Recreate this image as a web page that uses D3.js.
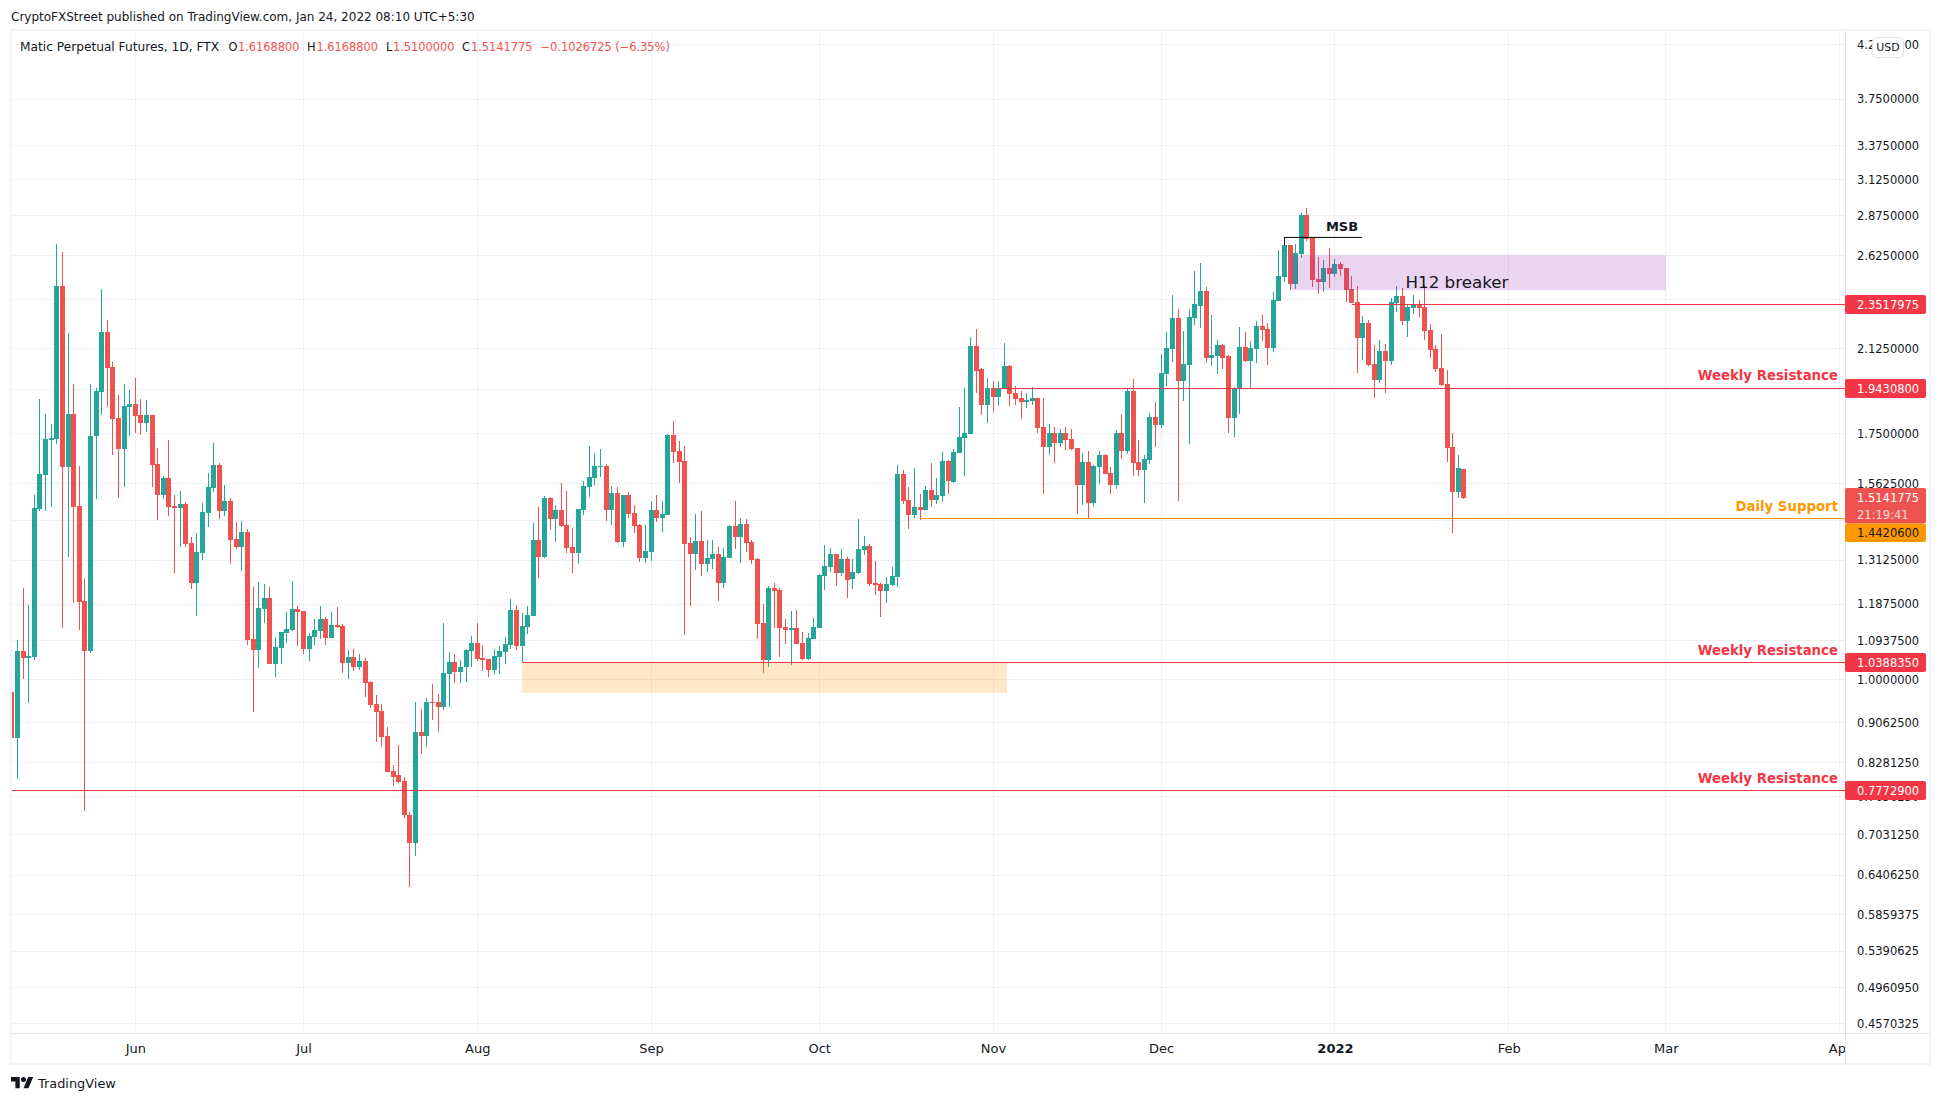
<!DOCTYPE html>
<html>
<head>
<meta charset="utf-8">
<script src="https://cdn.jsdelivr.net/npm/d3@7/dist/d3.min.js"></script>
<style>
  html, body { margin: 0; padding: 0; background: #ffffff; overflow: hidden; }
  text { font-family: "DejaVu Sans", sans-serif; }
</style>
</head>
<body>
<svg id="chart" width="1941" height="1103"></svg>
<script>
// Daily candles, May 10 2021 to Jan 24 2022
var firstDay = new Date(Date.UTC(2021, 4, 10));
var lastDay = new Date(Date.UTC(2022, 0, 24));

var opens = [
  0.973,0.876,1.068,1.051,1.053,1.475,1.594,1.726,1.730,2.450,
  1.623,1.831,1.485,1.196,1.068,1.742,1.925,2.207,2.038,1.814,
  1.691,1.860,1.873,1.827,1.794,1.827,1.634,1.522,1.583,1.485,
  1.479,1.492,1.365,1.246,1.334,1.462,1.548,1.630,1.469,1.502,
  1.378,1.353,1.400,1.098,1.071,1.175,1.205,1.037,1.075,1.112,
  1.120,1.175,1.170,1.073,1.102,1.117,1.149,1.100,1.133,1.131,
  1.039,1.053,1.030,1.044,0.995,0.946,0.932,0.880,0.813,0.804,
  0.794,0.735,0.689,0.888,0.880,0.951,0.951,0.939,1.014,1.041,
  1.018,1.030,1.068,1.088,1.051,1.048,1.023,1.053,1.065,1.083,
  1.172,1.080,1.128,1.157,1.375,1.322,1.512,1.442,1.472,1.423,
  1.353,1.334,1.472,1.551,1.583,1.623,1.627,1.472,1.529,1.369,
  1.522,1.462,1.423,1.319,1.337,1.472,1.446,1.455,1.746,1.683,
  1.646,1.365,1.331,1.372,1.301,1.316,1.331,1.246,1.319,1.420,
  1.384,1.426,1.369,1.316,1.138,1.046,1.233,1.227,1.128,1.120,
  1.126,1.088,1.048,1.098,1.126,1.266,1.292,1.331,1.275,1.316,
  1.258,1.275,1.344,1.356,1.246,1.243,1.224,1.241,1.264,1.598,
  1.505,1.455,1.482,1.472,1.540,1.505,1.519,1.646,1.569,1.675,
  1.734,1.751,2.138,2.027,1.869,1.943,1.903,1.939,2.041,1.921,
  1.899,1.881,1.886,1.899,1.777,1.698,1.753,1.714,1.753,1.730,
  1.695,1.558,1.642,1.495,1.623,1.668,1.601,1.558,1.753,1.683,
  1.929,1.642,1.612,1.649,1.818,1.786,2.005,2.123,2.277,1.974,
  2.046,2.277,2.341,2.422,2.080,2.089,2.142,2.089,1.814,1.939,
  2.133,2.065,2.123,2.237,2.222,2.128,2.368,2.500,2.689,2.461,
  2.635,2.879,2.732,2.489,2.472,2.552,2.517,2.576,2.552,2.433,
  2.362,2.177,2.252,2.051,1.978,2.113,2.065,2.357,2.395,2.262,
  2.330,2.346,2.335,2.217,2.123,2.033,1.961,1.698,1.533,1.61688
];
var highs = [
  1.011,1.095,1.233,1.186,1.522,1.894,1.831,1.790,2.695,2.647,
  2.202,1.961,1.627,1.258,1.961,1.943,2.433,2.267,2.060,1.912,
  1.961,1.934,1.987,1.894,1.890,1.827,1.695,1.590,1.726,1.522,
  1.536,1.498,1.384,1.397,1.495,1.601,1.715,1.638,1.558,1.512,
  1.433,1.436,1.410,1.235,1.249,1.243,1.235,1.102,1.115,1.167,
  1.252,1.183,1.170,1.112,1.149,1.183,1.154,1.167,1.180,1.136,
  1.071,1.073,1.060,1.051,0.998,0.966,0.946,0.898,0.823,0.862,
  0.802,0.740,0.951,0.936,0.959,0.991,0.968,1.138,1.065,1.060,
  1.046,1.073,1.105,1.138,1.083,1.048,1.073,1.080,1.102,1.202,
  1.186,1.164,1.183,1.429,1.482,1.518,1.515,1.488,1.565,1.536,
  1.413,1.475,1.572,1.702,1.675,1.691,1.634,1.555,1.551,1.522,
  1.533,1.488,1.426,1.423,1.502,1.522,1.502,1.750,1.802,1.722,
  1.702,1.384,1.459,1.469,1.375,1.375,1.353,1.350,1.423,1.502,
  1.446,1.442,1.375,1.319,1.188,1.239,1.246,1.233,1.149,1.170,
  1.172,1.115,1.112,1.151,1.272,1.359,1.350,1.331,1.347,1.322,
  1.316,1.442,1.388,1.362,1.310,1.246,1.264,1.292,1.630,1.612,
  1.551,1.619,1.525,1.555,1.638,1.583,1.679,1.649,1.691,1.860,
  1.943,2.182,2.222,2.033,1.987,1.974,1.974,2.152,2.046,1.951,
  1.929,1.921,1.947,1.899,1.899,1.790,1.777,1.769,1.777,1.769,
  1.695,1.675,1.683,1.630,1.683,1.671,1.623,1.765,1.831,1.939,
  1.983,1.726,1.668,1.835,1.881,2.099,2.207,2.400,2.324,2.212,
  2.324,2.534,2.581,2.444,2.293,2.167,2.147,2.094,1.947,2.232,
  2.207,2.162,2.262,2.293,2.252,2.417,2.659,2.739,2.689,2.695,
  2.892,2.925,2.732,2.617,2.599,2.671,2.605,2.587,2.552,2.506,
  2.450,2.288,2.267,2.142,2.167,2.147,2.384,2.450,2.439,2.351,
  2.400,2.373,2.455,2.247,2.142,2.197,2.023,1.755,1.668,1.61688
];
var lows = [
  0.778,0.798,1.002,0.949,1.046,1.469,1.469,1.482,1.711,1.126,
  1.322,1.191,1.120,0.742,1.063,1.508,1.827,1.860,1.668,1.512,
  1.551,1.742,1.755,1.746,1.759,1.551,1.439,1.508,1.452,1.275,
  1.353,1.353,1.230,1.157,1.313,1.417,1.533,1.442,1.452,1.301,
  1.347,1.281,1.083,0.930,1.027,1.138,1.037,1.007,1.037,1.088,
  1.117,1.080,1.060,1.044,1.083,1.098,1.083,1.100,1.126,1.015,
  1.002,1.020,1.023,0.962,0.937,0.868,0.858,0.811,0.785,0.790,
  0.729,0.623,0.670,0.845,0.858,0.913,0.888,0.934,0.939,0.993,
  0.993,0.995,1.030,1.044,1.020,1.007,1.014,1.014,1.037,1.073,
  1.071,1.041,1.110,1.157,1.261,1.319,1.407,1.369,1.417,1.334,
  1.275,1.301,1.455,1.515,1.558,1.586,1.436,1.423,1.365,1.353,
  1.446,1.397,1.307,1.304,1.310,1.433,1.400,1.455,1.638,1.565,
  1.107,1.183,1.284,1.266,1.278,1.287,1.196,1.233,1.319,1.347,
  1.304,1.337,1.301,1.098,1.016,1.030,1.126,1.053,1.085,1.034,
  1.085,1.046,1.046,1.098,1.126,1.227,1.278,1.239,1.266,1.205,
  1.230,1.272,1.328,1.239,1.213,1.154,1.191,1.239,1.235,1.492,
  1.410,1.446,1.439,1.472,1.482,1.492,1.498,1.525,1.565,1.675,
  1.590,1.751,1.921,1.827,1.794,1.839,1.864,1.939,1.864,1.869,
  1.810,1.856,1.869,1.753,1.526,1.668,1.638,1.698,1.687,1.687,
  1.459,1.488,1.442,1.482,1.562,1.598,1.525,1.544,1.653,1.671,
  1.590,1.590,1.495,1.634,1.698,1.773,1.951,2.060,1.502,1.886,
  1.711,2.241,2.227,2.056,2.041,2.005,2.027,1.753,1.738,1.831,
  2.060,1.939,2.056,2.162,2.046,2.108,2.368,2.472,2.428,2.433,
  2.611,2.714,2.444,2.406,2.417,2.439,2.500,2.506,2.362,2.357,
  2.010,2.070,2.041,1.899,1.965,1.921,2.046,2.310,2.241,2.182,
  2.299,2.283,2.167,2.080,2.014,1.951,1.642,1.397,1.512,1.51
];
var closes = [
  0.876,1.068,1.051,1.056,1.479,1.598,1.730,1.734,2.450,1.623,
  1.831,1.482,1.194,1.068,1.742,1.929,2.207,2.033,1.810,1.691,
  1.864,1.873,1.823,1.794,1.827,1.630,1.522,1.583,1.482,1.479,
  1.492,1.362,1.246,1.337,1.465,1.551,1.630,1.469,1.502,1.375,
  1.353,1.400,1.095,1.071,1.178,1.205,1.037,1.078,1.115,1.122,
  1.175,1.167,1.073,1.105,1.120,1.149,1.100,1.133,1.128,1.039,
  1.053,1.030,1.044,0.993,0.944,0.930,0.878,0.811,0.802,0.792,
  0.734,0.689,0.888,0.880,0.951,0.949,0.939,1.016,1.041,1.018,
  1.030,1.071,1.088,1.048,1.046,1.023,1.056,1.068,1.085,1.172,
  1.080,1.131,1.159,1.375,1.322,1.512,1.442,1.472,1.420,1.350,
  1.334,1.475,1.555,1.586,1.627,1.627,1.472,1.529,1.369,1.522,
  1.459,1.420,1.319,1.340,1.472,1.446,1.459,1.746,1.679,1.642,
  1.362,1.331,1.372,1.301,1.319,1.331,1.246,1.322,1.420,1.384,
  1.426,1.365,1.313,1.136,1.046,1.233,1.224,1.126,1.120,1.126,
  1.085,1.048,1.100,1.128,1.269,1.295,1.331,1.275,1.316,1.255,
  1.278,1.347,1.356,1.243,1.241,1.224,1.243,1.266,1.598,1.502,
  1.455,1.482,1.472,1.540,1.505,1.522,1.646,1.572,1.679,1.738,
  1.755,2.138,2.018,1.869,1.943,1.903,1.943,2.041,1.916,1.894,
  1.881,1.890,1.899,1.773,1.698,1.753,1.714,1.753,1.726,1.691,
  1.558,1.642,1.495,1.627,1.668,1.598,1.558,1.753,1.683,1.929,
  1.638,1.612,1.653,1.818,1.786,2.010,2.128,2.277,1.974,2.051,
  2.283,2.351,2.422,2.080,2.094,2.142,2.080,1.814,1.943,2.133,
  2.065,2.128,2.237,2.217,2.128,2.373,2.506,2.689,2.461,2.641,
  2.879,2.726,2.483,2.472,2.552,2.517,2.576,2.546,2.428,2.357,
  2.177,2.252,2.046,1.978,2.113,2.065,2.362,2.395,2.262,2.335,
  2.346,2.330,2.212,2.118,2.027,1.956,1.695,1.533,1.619,1.5141775
];

// Axis ticks
var priceTicks = [4.25,3.75,3.375,3.125,2.875,2.625,2.375,2.125,1.9375,1.75,1.5625,1.4375,1.3125,
                  1.1875,1.09375,1,0.90625,0.828125,0.765625,0.703125,0.640625,0.5859375,0.5390625,0.496095,0.4570325];
// These three only show their grid line, their labels sit fully under price tags
var unlabelledTicks = [2.375, 1.9375, 1.4375];
var monthTicks = [[2021,5],[2021,6],[2021,7],[2021,8],[2021,9],[2021,10],[2021,11],[2022,0],[2022,1],[2022,2],[2022,3]]
    .map(function(d){ return new Date(Date.UTC(d[0], d[1], 1)); });
var monthLabels = ["Jun","Jul","Aug","Sep","Oct","Nov","Dec","2022","Feb","Mar","Apr"];

// Drawn levels
var levelPrices = [2.3517975, 1.94308, 1.44206, 1.038835, 0.77729];
var levelLabels = ["2.3517975", "1.9430800", "1.4420600", "1.0388350", "0.7772900"];
var levelStarts = [[2022,0,4], [2021,10,2], [2021,9,19], [2021,7,9], [2021,4,10]]
    .map(function(d){ return new Date(Date.UTC(d[0], d[1], d[2])); });
var levelNotes = ["", "Weekly Resistance", "Daily Support", "Weekly Resistance", "Weekly Resistance"];

// Zones: [start, end], [low price, high price]
var orangeZoneDates = [new Date(Date.UTC(2021, 7, 9)), new Date(Date.UTC(2021, 10, 3, 12))];
var orangeZonePrices = [0.971, 1.038835];
var purpleZoneDates = [new Date(Date.UTC(2021, 11, 24)), new Date(Date.UTC(2022, 2, 1))];
var purpleZonePrices = [2.428, 2.629];

// Market structure break
var msbDates = [new Date(Date.UTC(2021, 11, 23)), new Date(Date.UTC(2022, 0, 5, 20))];
var msbPrice = 2.738;
var msbFootPrice = 2.689;

// Legend pieces and where each one starts
var legendParts = ["Matic Perpetual Futures, 1D, FTX", "O", "1.6168800", "H", "1.6168800", "L", "1.5100000", "C", "1.5141775", "\u22120.1026725 (\u22126.35%)"];
var legendStarts = [20, 228.5, 238, 307, 316.5, 386, 393, 462, 471, 540.5];

var green = "#26a69a", red = "#ef5350", lineRed = "#f23645", orange = "#ff9800", ink = "#131722";

var paneLeft = 12, paneRight = 1845, paneTop = 31, paneBottom = 1033;

var svg = d3.select("#chart");

svg.append("rect").attr("width", 1941).attr("height", 1103).attr("fill", "#ffffff");

var x = d3.scaleUtc()
    .domain([monthTicks[0], monthTicks[10]])
    .range([135.3, 1839.5]);

var y = d3.scaleLog()
    .domain([0.4570325, 3.75])
    .range([1023.5, 99.3]);

var days = d3.utcDay.range(firstDay, d3.utcDay.offset(lastDay, 1));
var candles = days.map(function(day, i){
    return { day: day, o: opens[i], h: highs[i], l: lows[i], c: closes[i] };
});
function candleColor(d){ return d.c >= d.o ? green : red; }

svg.append("defs").append("clipPath").attr("id", "pane")
   .append("rect")
   .attr("x", paneLeft).attr("y", paneTop)
   .attr("width", paneRight - paneLeft).attr("height", paneBottom - paneTop);

var pane = svg.append("g").attr("clip-path", "url(#pane)");

// Grid
pane.append("g").selectAll("line").data(priceTicks).join("line")
    .attr("x1", paneLeft).attr("x2", paneRight)
    .attr("y1", function(d){ return Math.floor(y(d)) + 0.5; })
    .attr("y2", function(d){ return Math.floor(y(d)) + 0.5; })
    .attr("stroke", "#eff0f3");
pane.append("g").selectAll("line").data(monthTicks).join("line")
    .attr("x1", function(d){ return Math.floor(x(d)) + 0.5; })
    .attr("x2", function(d){ return Math.floor(x(d)) + 0.5; })
    .attr("y1", paneTop).attr("y2", paneBottom)
    .attr("stroke", "#eff0f3");

// Candles, snapped to whole pixels like the original canvas
var candleGroup = pane.append("g").attr("shape-rendering", "crispEdges");
candleGroup.selectAll("rect.wick").data(candles).join("rect")
    .attr("class", "wick")
    .attr("x", function(d){ return Math.floor(x(d.day)); })
    .attr("width", 1)
    .attr("y", function(d){ return y(d.h); })
    .attr("height", function(d){ return y(d.l) - y(d.h); })
    .attr("fill", candleColor);
candleGroup.selectAll("rect.body").data(candles).join("rect")
    .attr("class", "body")
    .attr("x", function(d){ return Math.floor(x(d.day)) - 2; })
    .attr("width", 5)
    .attr("y", function(d){ return y(Math.max(d.o, d.c)); })
    .attr("height", function(d){ return Math.max(1, Math.abs(y(d.o) - y(d.c))); })
    .attr("fill", candleColor);

// Zones sit over the candles
pane.append("rect")
    .attr("x", x(orangeZoneDates[0])).attr("width", x(orangeZoneDates[1]) - x(orangeZoneDates[0]))
    .attr("y", y(orangeZonePrices[1])).attr("height", y(orangeZonePrices[0]) - y(orangeZonePrices[1]))
    .attr("fill", orange).attr("fill-opacity", 0.22);
pane.append("rect")
    .attr("x", x(purpleZoneDates[0])).attr("width", x(purpleZoneDates[1]) - x(purpleZoneDates[0]))
    .attr("y", y(purpleZonePrices[1])).attr("height", y(purpleZonePrices[0]) - y(purpleZonePrices[1]))
    .attr("fill", "#9c27b0").attr("fill-opacity", 0.2);

// Level lines
function levelColor(d, i){ return levelPrices[i] == 1.44206 ? orange : lineRed; }
pane.append("g").selectAll("line").data(levelPrices).join("line")
    .attr("x1", function(d, i){ return i == 4 ? paneLeft : x(levelStarts[i]); })
    .attr("x2", paneRight)
    .attr("y1", function(d){ return Math.floor(y(d)) + 0.5; })
    .attr("y2", function(d){ return Math.floor(y(d)) + 0.5; })
    .attr("stroke", levelColor)
    .attr("stroke-width", 1);

// MSB marker
pane.append("path")
    .attr("d", d3.line()([[x(msbDates[0]), y(msbFootPrice)], [x(msbDates[0]), y(msbPrice)], [x(msbDates[1]), y(msbPrice)]]))
    .attr("fill", "none").attr("stroke", "#000000").attr("stroke-width", 1);

svg.append("text").attr("x", 1342).attr("y", 226).attr("dy", "0.36em")
   .attr("text-anchor", "middle").attr("font-size", 13).attr("font-weight", 600)
   .attr("fill", ink).text("MSB");
svg.append("text").attr("x", 1405.5).attr("y", 282).attr("dy", "0.36em")
   .attr("font-size", 16.7).attr("fill", ink).text("H12 breaker");

svg.append("g").selectAll("text").data(levelNotes).join("text")
   .attr("x", 1838)
   .attr("y", function(d, i){ return y(levelPrices[i]) - 12.5; })
   .attr("dy", "0.36em")
   .attr("text-anchor", "end")
   .attr("font-size", 13.3).attr("font-weight", 700)
   .attr("fill", levelColor)
   .text(function(d){ return d; });

// Price axis
var priceAxis = d3.axisRight(y).tickValues(priceTicks)
    .tickFormat(function(d){ return unlabelledTicks.indexOf(d) >= 0 ? "" : d3.format(".7f")(d); })
    .tickSize(0).tickPadding(12);
var priceAxisGroup = svg.append("g").attr("transform", "translate(" + paneRight + ",0)").call(priceAxis);
priceAxisGroup.select(".domain").remove();
priceAxisGroup.selectAll("text").attr("font-family", "DejaVu Sans").attr("font-size", 11.5).attr("fill", ink);

// Time axis, clipped where it meets the price scale
svg.select("defs").append("clipPath").attr("id", "timeClip")
   .append("rect").attr("x", paneLeft).attr("y", paneBottom).attr("width", paneRight - paneLeft).attr("height", 32);
var timeAxis = d3.axisBottom(x).tickValues(monthTicks)
    .tickFormat(function(d, i){ return monthLabels[i]; }).tickSize(0).tickPadding(11);
var timeAxisGroup = svg.append("g").attr("clip-path", "url(#timeClip)")
    .append("g").attr("transform", "translate(0," + paneBottom + ")").call(timeAxis);
timeAxisGroup.select(".domain").remove();
timeAxisGroup.selectAll("text")
    .attr("font-family", "DejaVu Sans").attr("font-size", 13).attr("fill", ink)
    .attr("font-weight", function(d, i){ return monthLabels[i] == "2022" ? 700 : 400; });

// Axis borders and outer frame
svg.append("line").attr("x1", paneRight + 0.5).attr("x2", paneRight + 0.5).attr("y1", paneTop).attr("y2", 1064)
   .attr("stroke", "#e0e3eb");
svg.append("line").attr("x1", paneLeft).attr("x2", 1930).attr("y1", paneBottom + 0.5).attr("y2", paneBottom + 0.5)
   .attr("stroke", "#e0e3eb");
svg.append("rect").attr("x", 11).attr("y", 30).attr("width", 1919).attr("height", 1034)
   .attr("fill", "none").attr("stroke", "#f0f3fa").attr("stroke-width", 2);

// Price tags
var tagGroup = svg.append("g");
function priceTag(top, height, textY, fill, label, textColor){
    tagGroup.append("rect")
        .attr("x", paneRight).attr("y", top).attr("width", 81).attr("height", height)
        .attr("rx", 2).attr("fill", fill);
    tagGroup.append("text")
        .attr("x", paneRight + 12).attr("y", textY).attr("dy", "0.36em")
        .attr("font-size", 11.5).attr("fill", textColor).text(label);
}
levelPrices.forEach(function(price, i){
    if ( price == 1.44206 ) return;
    var top = Math.floor(y(price)) - 9;
    priceTag(top, 19, top + 9.5, lineRed, levelLabels[i], "#ffffff");
});
priceTag(488, 35.5, y(closes[259]), red, "1.5141775", "#ffffff");
tagGroup.append("text").attr("x", paneRight + 12).attr("y", 514.5).attr("dy", "0.36em")
    .attr("font-size", 11.5).attr("fill", "#ffffff").attr("fill-opacity", 0.8).text("21:19:41");
priceTag(523.5, 18.5, 533, orange, levelLabels[2], ink);

// USD badge
svg.append("rect").attr("x", 1872.5).attr("y", 37.5).attr("width", 31).attr("height", 20)
   .attr("rx", 4).attr("fill", "#ffffff").attr("stroke", "#e0e3eb");
svg.append("text").attr("x", 1888).attr("y", 47.5).attr("dy", "0.36em").attr("text-anchor", "middle")
   .attr("font-size", 11).attr("fill", ink).text("USD");

// Header and legend
svg.append("text").attr("x", 11).attr("y", 17).attr("dy", "0.36em")
   .attr("font-size", 12).attr("fill", ink)
   .text("CryptoFXStreet published on TradingView.com, Jan 24, 2022 08:10 UTC+5:30");

svg.append("g").selectAll("text").data(legendParts).join("text")
   .attr("x", function(d, i){ return legendStarts[i]; })
   .attr("y", 47).attr("dy", "0.36em")
   .attr("font-size", function(d, i){ return i == 0 ? 12.2 : 11.4; })
   .attr("fill", function(d, i){ return (i == 0 || i % 2 == 1) && i < 9 ? ink : red; })
   .text(function(d){ return d; });

// Footer logo
var logo = svg.append("g").attr("transform", "translate(11,1074.5) scale(0.625)").attr("fill", ink);
logo.append("path").attr("d", "M14 22H7V11H0V4h14v18zM28 22h-8l7.5-18h8L28 22z");
logo.append("circle").attr("cx", 20).attr("cy", 8).attr("r", 4);
svg.append("text").attr("x", 38).attr("y", 1083).attr("dy", "0.36em")
   .attr("font-size", 12.9).attr("fill", ink).text("TradingView");
</script>
</body>
</html>
